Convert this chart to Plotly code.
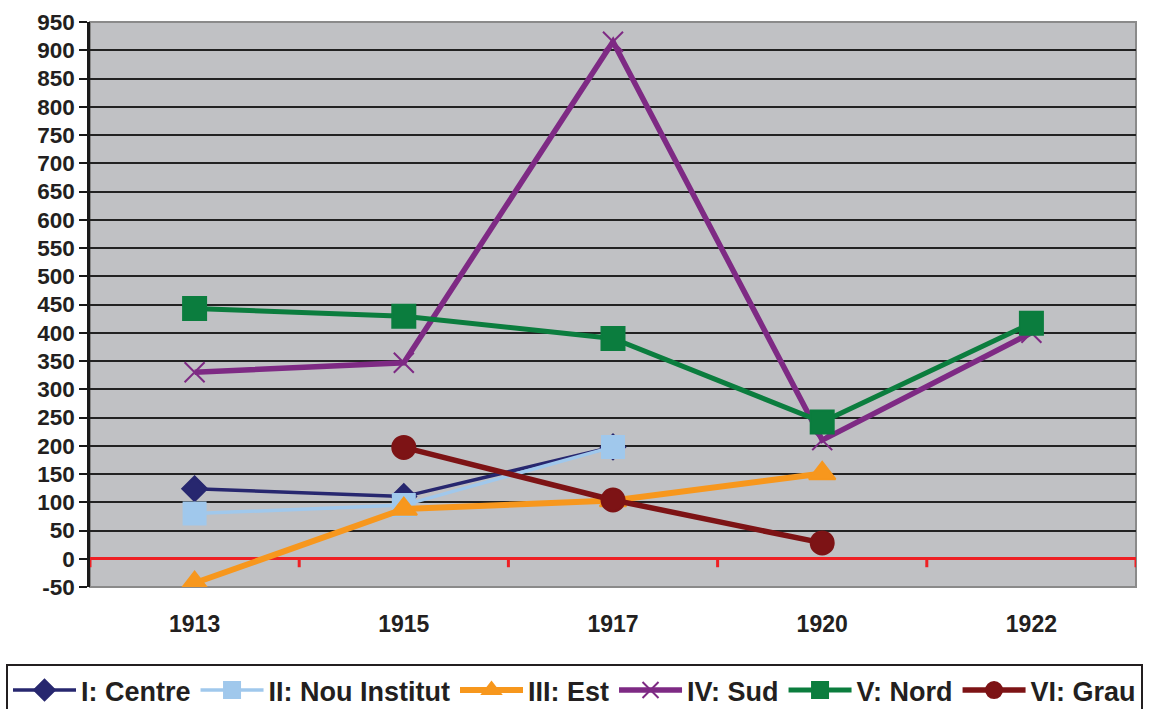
import plotly.graph_objects as go

# year categories on the x axis
YEARS = ["1913", "1915", "1917", "1920", "1922"]

# value axis ticks (plain hyphen on the negative one, as in the original)
Y_TICKS = [-50, 0, 50, 100, 150, 200, 250, 300, 350, 400, 450,
           500, 550, 600, 650, 700, 750, 800, 850, 900, 950]
Y_TICK_LABELS = ["-50", "0", "50", "100", "150", "200", "250", "300", "350",
                 "400", "450", "500", "550", "600", "650", "700", "750",
                 "800", "850", "900", "950"]

# one list per district, None where there is no value
CENTRE = [124, 110, 198, None, None]
NOU_INSTITUT = [80, 95, 198, None, None]
EST = [-43, 88, 103, 151, None]
SUD = [330, 347, 915, 210, 400]
NORD = [443, 429, 390, 242, 417]
GRAU = [None, 197, 104, 28, None]

SERIES = [
    ("I: Centre", CENTRE, "#27276F", 3.5, "diamond", 19),
    ("II: Nou Institut", NOU_INSTITUT, "#A0C8EC", 3.5, "square", 22),
    ("III: Est", EST, "#F7971D", 6, "triangle-up", 23),
    ("IV: Sud", SUD, "#7E2A84", 5.5, "x-thin-open", 20),
    ("V: Nord", NORD, "#0B7D3E", 5, "square", 23),
    ("VI: Grau", GRAU, "#7D1315", 5.5, "circle", 23),
]

FONT = "Liberation Sans, Arial, sans-serif"
TEXT = "#231F20"

fig = go.Figure()

for name, values, color, width, symbol, size in SERIES:
    fig.add_scatter(
        x=YEARS,
        y=values,
        name=name,
        mode="lines+markers",
        line={"color": color, "width": width},
        marker={
            "symbol": symbol,
            "size": size,
            "color": color,
            "line": {"color": color, "width": 2},
        },
    )

# red category ticks hanging off the zero line
for i in range(len(YEARS) + 1):
    fig.add_shape(
        type="line",
        xref="x",
        yref="y",
        x0=i - 0.5,
        x1=i - 0.5,
        y0=0,
        y1=-15,
        line={"color": "#EE2024", "width": 3},
        layer="below",
    )

# grey frame on top / right / bottom
fig.add_shape(
    type="rect",
    xref="paper",
    yref="paper",
    x0=0,
    x1=1,
    y0=0,
    y1=1,
    line={"color": "#8A8A8A", "width": 2},
    layer="below",
)

fig.update_xaxes(
    type="category",
    range=[-0.5, 4.5],
    showgrid=False,
    ticks="outside",
    ticklen=16,
    tickcolor="rgba(0,0,0,0)",
    tickfont={"family": FONT, "size": 23, "color": TEXT, "weight": "bold"},
    showline=False,
    zeroline=False,
    automargin=False,
)

fig.update_yaxes(
    range=[-50, 950],
    tickvals=Y_TICKS,
    ticktext=Y_TICK_LABELS,
    showgrid=True,
    gridcolor="#222222",
    gridwidth=2,
    zeroline=True,
    zerolinecolor="#EE2024",
    zerolinewidth=3,
    showline=True,
    linecolor="#1A1A1A",
    linewidth=2.5,
    ticks="outside",
    ticklen=8,
    tickwidth=2,
    tickcolor="#1A1A1A",
    tickfont={"family": FONT, "size": 22.5, "color": TEXT, "weight": "bold"},
    automargin=False,
)

fig.update_layout(
    width=1154,
    height=709,
    margin={"l": 90, "r": 18, "t": 22, "b": 122, "autoexpand": False},
    plot_bgcolor="#C0C1C4",
    paper_bgcolor="white",
    font={"family": FONT, "color": TEXT},
    showlegend=True,
    legend={
        "orientation": "h",
        "x": -0.0803,
        "xanchor": "left",
        "y": -0.1363,
        "yanchor": "top",
        "bordercolor": "#231F20",
        "borderwidth": 2,
        "bgcolor": "white",
        "font": {"family": FONT, "size": 27, "color": TEXT, "weight": "bold"},
        "itemwidth": 63,
        "tracegroupgap": 0,
    },
)

# page has a default 8px body margin; drop it so the figure sits at 0,0
fig.write_html(
    "out.html",
    config={"displayModeBar": False},
    post_script="document.body.style.margin = '0px';",
)
